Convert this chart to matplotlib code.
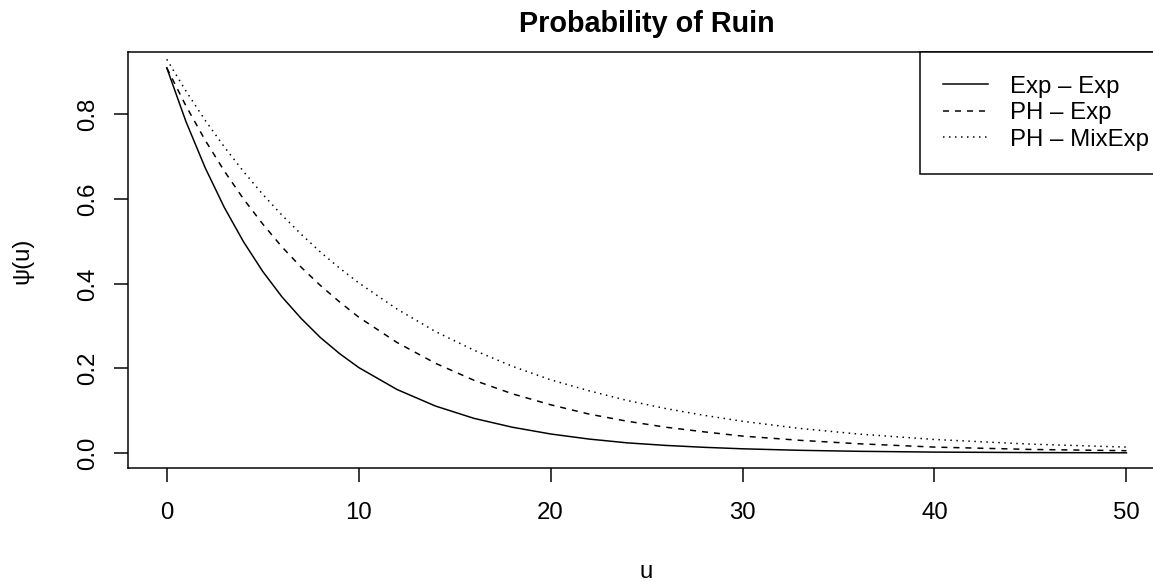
import matplotlib
matplotlib.use("Agg")
import matplotlib.pyplot as plt

plt.rcParams['font.family'] = ['Liberation Sans', 'DejaVu Sans']
plt.rcParams['font.size'] = 12

# values (u, psi(u))
u = [0, 1, 2, 3, 4, 5, 6, 7, 8, 9, 10, 12, 14, 16, 18, 20, 22, 24, 26, 28, 30, 33, 36, 40, 45, 50]
exp_exp = [0.910, 0.783, 0.674, 0.580, 0.499, 0.429, 0.369, 0.318, 0.273, 0.235, 0.202,
           0.150, 0.111, 0.082, 0.061, 0.045, 0.033, 0.024, 0.018, 0.0135, 0.010,
           0.0064, 0.0041, 0.0022, 0.0011, 0.0005]
ph_exp = [0.910, 0.820, 0.739, 0.666, 0.600, 0.541, 0.487, 0.439, 0.396, 0.357, 0.321,
          0.261, 0.212, 0.172, 0.140, 0.114, 0.092, 0.075, 0.061, 0.050, 0.040,
          0.030, 0.022, 0.014, 0.0085, 0.0055]
ph_mixexp = [0.930, 0.855, 0.786, 0.723, 0.665, 0.611, 0.562, 0.517, 0.475, 0.437, 0.402,
             0.340, 0.287, 0.243, 0.205, 0.173, 0.147, 0.124, 0.105, 0.089, 0.075,
             0.058, 0.045, 0.032, 0.021, 0.014]
labels = ["Exp \u2013 Exp", "PH \u2013 Exp", "PH \u2013 MixExp"]
xticks = [0, 10, 20, 30, 40, 50]
yticks = [0.0, 0.2, 0.4, 0.6, 0.8]

fig = plt.figure(figsize=(1153.4 / 144, 582.4 / 144), dpi=144)
ax = fig.add_axes([0.11128, 0.19536, 0.89862, 0.71409])

lw = 0.75
ax.plot(u, exp_exp, color='black', lw=lw, label=labels[0])
ax.plot(u, ph_exp, color='black', lw=lw, linestyle=(0, (4, 4)), label=labels[1])
ax.plot(u, ph_mixexp, color='black', lw=lw, linestyle=(0, (1, 3)), label=labels[2])

# R style limits: 4% extension around the first series
ax.set_xlim(min(u) - 0.04 * (max(u) - min(u)), max(u) + 0.04 * (max(u) - min(u)))
r = max(exp_exp) - min(exp_exp)
ax.set_ylim(min(exp_exp) - 0.04 * r, max(exp_exp) + 0.04 * r)

ax.set_xticks(xticks)
ax.set_xticklabels([str(t) for t in xticks])
ax.set_yticks(yticks)
ax.set_yticklabels(["%.1f" % t for t in yticks])
ax.tick_params(axis='both', direction='out', length=7.2, width=lw, color='black', labelsize=12)
ax.tick_params(axis='x', pad=9.5)
ax.tick_params(axis='y', pad=7.5, labelrotation=90)
for lab in ax.get_yticklabels():
    lab.set_va('center')

for s in ax.spines.values():
    s.set_linewidth(lw)

ax.set_title("Probability of Ruin", fontsize=14.4, fontweight='bold', pad=10.5)
ax.set_xlabel("u", fontsize=12)
ax.xaxis.set_label_coords(0.5, -0.222)
ax.set_ylabel("\u03c8(u)", fontsize=12)
ax.yaxis.set_label_coords(-0.092, 0.5)

leg = ax.legend(loc='upper right', bbox_to_anchor=(1.0071, 1), borderaxespad=0, fancybox=False,
                edgecolor='black', framealpha=1, handlelength=1.875, handletextpad=0.92,
                borderpad=0.95, labelspacing=0.2, fontsize=12)
leg.get_frame().set_linewidth(lw)

plt.savefig("out.png", dpi=144)
